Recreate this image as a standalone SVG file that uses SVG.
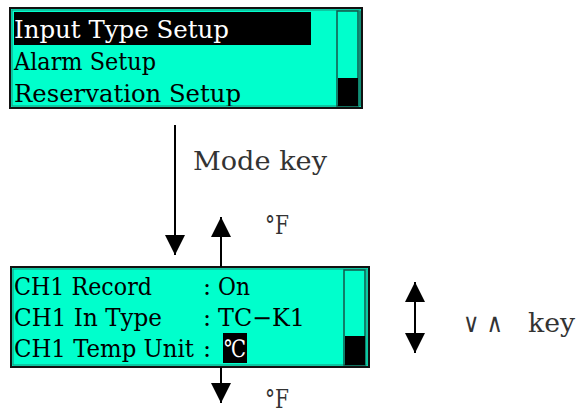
<svg xmlns="http://www.w3.org/2000/svg" width="579" height="414" viewBox="0 0 579 414">
<style>
.box{fill:#00FFCC;stroke:#111;stroke-width:2}
.inner{fill:none;stroke:#1a8f78;stroke-width:1}
.sb{fill:none;stroke:#14574a;stroke-width:1.5}
.t{font-family:"DejaVu Serif","Liberation Serif",serif;font-size:24px;fill:#000}
.w{fill:#fff}
.lbl{font-family:"DejaVu Serif","Liberation Serif",serif;font-size:26px;fill:#333}
.ln{stroke:#000;stroke-width:2;fill:none}
</style>
<defs>
<marker id="ah" viewBox="0 0 20 20" refX="20" refY="10" markerWidth="20" markerHeight="20" markerUnits="userSpaceOnUse" orient="auto-start-reverse">
<path d="M0,0 L20,10 L0,20 Z" fill="#000"/>
</marker>
<clipPath id="c1"><rect x="11" y="9" width="350" height="97"/></clipPath>
</defs>
<g id="menu-box">
<rect class="box" x="10" y="8" width="352" height="100"/>
<rect class="inner" x="12" y="10" width="348" height="96"/>
<rect x="14" y="12" width="297" height="33" fill="#000"/>
<g clip-path="url(#c1)">
<text class="t w" x="14" y="38" textLength="215" lengthAdjust="spacingAndGlyphs">Input Type Setup</text>
<text class="t" x="14" y="70" textLength="142" lengthAdjust="spacingAndGlyphs">Alarm Setup</text>
<text class="t" x="14" y="102" textLength="227" lengthAdjust="spacingAndGlyphs">Reservation Setup</text>
</g>
<rect class="sb" x="337" y="11" width="21" height="95"/>
<line x1="360" y1="11" x2="360" y2="106" stroke="#14574a" stroke-width="1"/>
<rect x="338" y="78" width="20" height="28" fill="#000"/>
</g>
<g id="channel-box">
<rect class="box" x="11" y="267" width="358" height="100"/>
<rect class="inner" x="13" y="269" width="354" height="96"/>
<text class="t" x="14" y="295" textLength="138" lengthAdjust="spacingAndGlyphs">CH1 Record</text>
<text class="t" x="203" y="295">:</text>
<text class="t" x="218" y="295" textLength="32" lengthAdjust="spacingAndGlyphs">On</text>
<text class="t" x="14" y="326" textLength="148" lengthAdjust="spacingAndGlyphs">CH1 In Type</text>
<text class="t" x="203" y="326">:</text>
<text class="t" x="218" y="326" textLength="87" lengthAdjust="spacingAndGlyphs">TC−K1</text>
<text class="t" x="14" y="357" textLength="180" lengthAdjust="spacingAndGlyphs">CH1 Temp Unit</text>
<text class="t" x="203" y="357">:</text>
<rect x="223" y="333" width="24" height="30" fill="#000"/>
<text class="t w" x="224" y="357" textLength="22" lengthAdjust="spacingAndGlyphs">℃</text>
<rect class="sb" x="344" y="270" width="21" height="95"/>
<rect x="345" y="336" width="20" height="29" fill="#000"/>
</g>
<g id="connectors">
<line class="ln" x1="175" y1="125" x2="175" y2="255" marker-end="url(#ah)"/>
<line class="ln" x1="221" y1="267" x2="221" y2="217" marker-end="url(#ah)"/>
<line class="ln" x1="221" y1="367" x2="221" y2="403" marker-end="url(#ah)"/>
<line class="ln" x1="415" y1="282" x2="415" y2="353" marker-start="url(#ah)" marker-end="url(#ah)"/>
</g>
<g id="labels">
<text class="lbl" x="193" y="170" textLength="134" lengthAdjust="spacingAndGlyphs">Mode key</text>
<text class="lbl" x="265" y="234" font-size="28" textLength="24" lengthAdjust="spacingAndGlyphs">°F</text>
<text class="lbl" x="265" y="408" font-size="28" textLength="24" lengthAdjust="spacingAndGlyphs">°F</text>
<text class="lbl" x="463" y="332" textLength="40" lengthAdjust="spacingAndGlyphs">∨ ∧</text>
<text class="lbl" x="528" y="332" textLength="47" lengthAdjust="spacingAndGlyphs">key</text>
</g>
</svg>
